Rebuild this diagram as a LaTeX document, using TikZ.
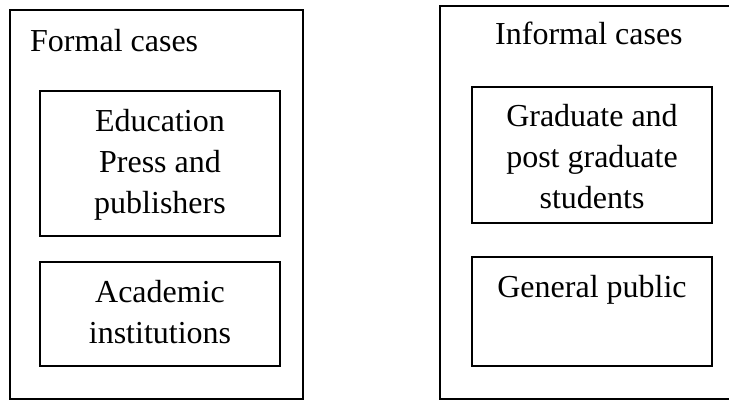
\documentclass[tikz,border=0pt]{standalone}
\usepackage{fontspec}
\setmainfont{Liberation Serif}
\usetikzlibrary{fit}
\begin{document}
\begin{tikzpicture}[x=1pt,y=-1pt,
  box/.style={draw=black, line width=1.7pt, inner sep=0pt, fill=none},
  txt/.style={inner sep=0pt, align=center, font=\fontsize{32pt}{41pt}\selectfont}]
\useasboundingbox (0,0) rectangle (729,401);
\clip (0,0) rectangle (729,401);
% left group
\node[box, fit={(10,10) (303,399)}] (lo) {};
\node[box, fit={(40,91) (280,236)}] (l1) {};
\node[box, fit={(40,262) (280,366)}] (l2) {};
% right group
\node[box, fit={(440,6) (760,399)}] (ro) {};
\node[box, fit={(472,87) (712,223)}] (r1) {};
\node[box, fit={(472,257) (712,366)}] (r2) {};
% texts (base anchor = baseline of the last line)
\node[txt, anchor=base west] (tlo) at (30,52) {Formal cases};
\node[txt, anchor=base west] (tro) at (495,45) {Informal cases};
\node[txt, anchor=base] (tl1) at (160,214) {Education\\Press and\\publishers};
\node[txt, anchor=base] (tl2) at (160,343) {Academic\\institutions};
\node[txt, anchor=base] (tr1) at (592,209) {Graduate and\\post graduate\\students};
\node[txt, anchor=base] (tr2) at (592,297) {General public};
\end{tikzpicture}
\end{document}
